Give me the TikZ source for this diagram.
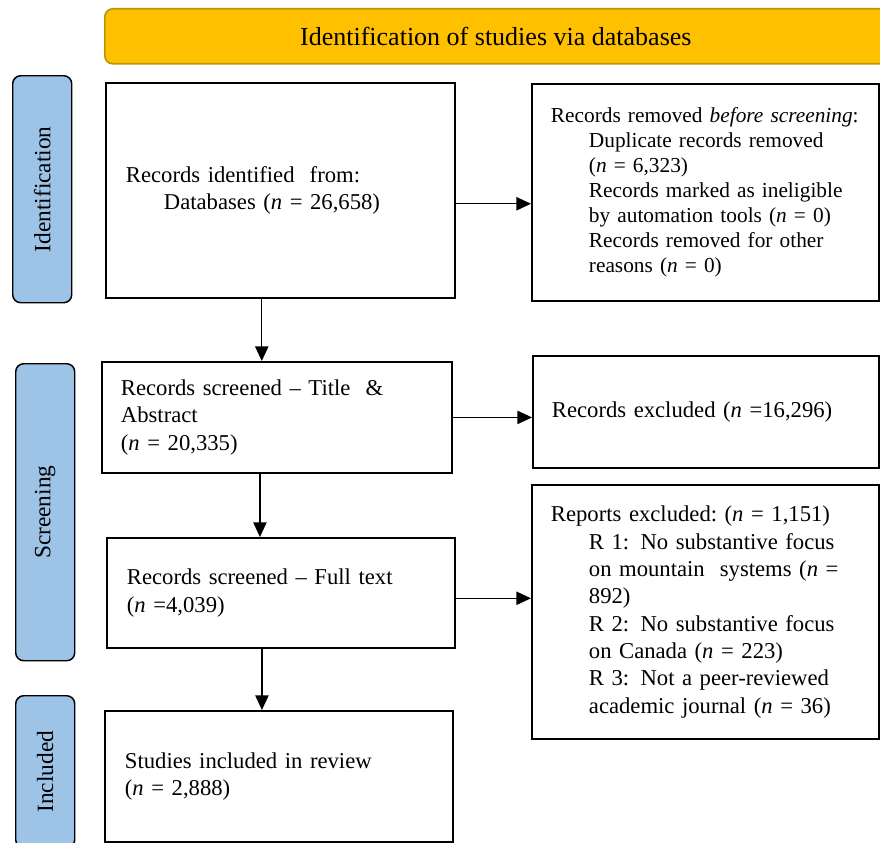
\documentclass[tikz,border=0pt]{standalone}
\usepackage{fontspec}
\setmainfont{Liberation Serif}
\usetikzlibrary{arrows.meta}
\definecolor{headfill}{HTML}{FFC000}
\definecolor{headedge}{HTML}{C09100}
\definecolor{phaseblue}{HTML}{9DC3E6}

\begin{document}
\begin{tikzpicture}[x=0.75pt,y=-0.75pt,
  box/.style={draw=black, line width=1.4pt, anchor=north west, align=left, inner ysep=0pt,
    font=\fontsize{17}{20.5}\selectfont},
  phase/.style={draw=black, line width=1.1pt, fill=phaseblue, rounded corners=6pt,
    anchor=north west, inner sep=0pt, minimum width=44.25pt, font=\fontsize{17.5}{20}\selectfont},
  arr/.style={line width=1pt, -{Triangle[length=11pt,width=10pt]}}]
\useasboundingbox (0,0) rectangle (880,842);
\node[draw=headedge, line width=1.2pt, fill=headfill, rounded corners=6pt, anchor=north west,
  minimum width=586.5pt, minimum height=41.25pt, inner sep=0pt,
  font=\fontsize{19.5}{22}\selectfont] (head) at (104,8) {Identification of studies via databases};
\node[phase, minimum height=170.25pt] (phid) at (12,75) {\rotatebox{90}{Identification}};
\node[phase, minimum height=222.75pt] (phscr) at (15,363) {\rotatebox{90}{Screening}};
\node[phase, minimum height=114pt] (phinc) at (15,695) {\rotatebox{90}{Included}};
\node[box, inner xsep=15pt, text width=231.75pt, minimum height=161.25pt] (idrec) at (105,82)
  {Records identified\ \ from:\\\hspace*{28.5pt}Databases (\textit{n} = 26,658)};
\node[box, inner xsep=14.25pt, text width=231.75pt, minimum height=162.75pt,
  font=\fontsize{16}{18.75}\selectfont] (idremoved) at (531,83)
  {Records removed \textit{before screening}:\\
   \hspace*{28.5pt}Duplicate records removed\\
   \hspace*{28.5pt}(\textit{n} = 6,323)\\
   \hspace*{28.5pt}Records marked as ineligible\\
   \hspace*{28.5pt}by automation tools (\textit{n} = 0)\\
   \hspace*{28.5pt}Records removed for other\\
   \hspace*{28.5pt}reasons (\textit{n} = 0)};
\node[box, inner xsep=14.25pt, text width=234pt, minimum height=83.25pt] (scrta) at (101,361)
  {Records screened -- Title\ \ \&\\Abstract\\(\textit{n} = 20,335)};
\node[box, inner xsep=14.25pt, text width=231pt, minimum height=84pt] (scrtaexcl) at (532,355)
  {Records excluded (\textit{n} =16,296)};
\node[box, inner xsep=15pt, text width=231pt, minimum height=82.5pt] (scrft) at (106,537)
  {Records screened -- Full text\\(\textit{n} =4,039)};
\node[box, inner xsep=14.25pt, text width=231.75pt, minimum height=190.5pt] (ftexcl) at (531,484)
  {Reports excluded:\ (\textit{n} = 1,151)\\
   \hspace*{28.5pt}R 1: No substantive focus\\
   \hspace*{28.5pt}on mountain\ \ systems (\textit{n} =\\
   \hspace*{28.5pt}892)\\
   \hspace*{28.5pt}R 2: No substantive focus\\
   \hspace*{28.5pt}on Canada (\textit{n} = 223)\\
   \hspace*{28.5pt}R 3: Not a peer-reviewed\\
   \hspace*{28.5pt}academic journal\ (\textit{n} = 36)};
\node[box, inner xsep=15pt, text width=231pt, minimum height=98.25pt] (incl) at (104,710)
  {Studies included in review\\(\textit{n} = 2,888)};
% flow
\draw[arr] ([yshift=-10pt]idrec.east) -- ([yshift=-10pt]idrec.east -| idremoved.west);
\draw[arr] (scrta.east) -- (scrta.east -| scrtaexcl.west);
\draw[arr] ([yshift=-4pt]scrft.east) -- ([yshift=-4pt]scrft.east -| ftexcl.west);
\draw[arr] ([xshift=-14pt]idrec.south) -- ([xshift=-14pt]idrec.south |- scrta.north);
\draw[arr] ([xshift=-12.75pt]scrta.south) -- ([xshift=-12.75pt]scrta.south |- scrft.north);
\draw[arr] ([xshift=-14.25pt]scrft.south) -- ([xshift=-14.25pt]scrft.south |- incl.north);
\end{tikzpicture}
\end{document}
